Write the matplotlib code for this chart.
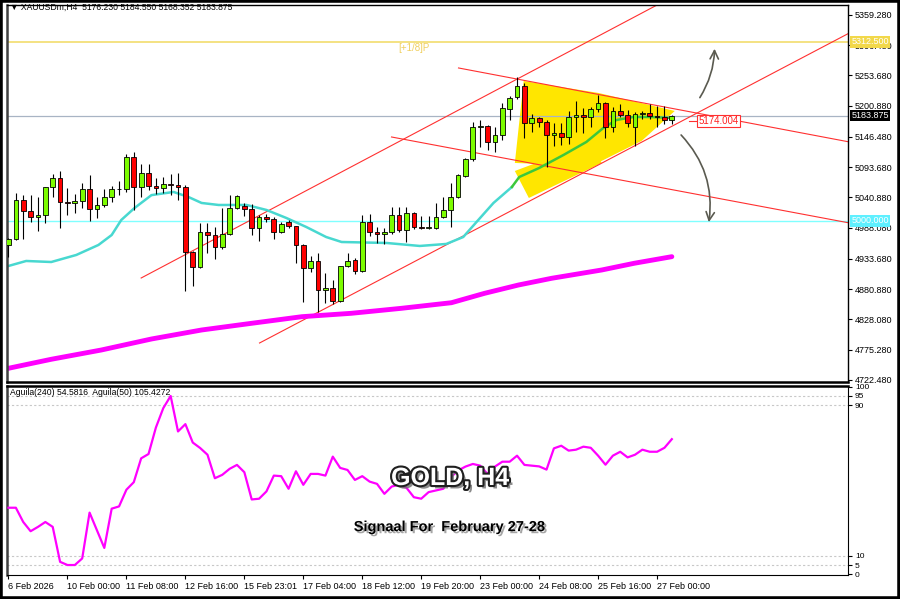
import numpy as np
import matplotlib.pyplot as plt
from matplotlib.patches import Rectangle, Polygon, FancyArrowPatch
import matplotlib.patheffects as pe

plt.rcParams['font.family'] = ['Liberation Sans', 'DejaVu Sans']

# XAUUSDm H4 candles
opens = [4958.0, 4967.9, 5036.0, 5017.3, 5007.4, 5010.4, 5058.7, 5074.4, 5032.5, 5030.8,
         5034.8, 5055.2, 5020.3, 5027.8, 5042.3, 5055.2, 5055.2, 5112.0, 5059.7, 5083.1,
         5061.5, 5056.9, 5063.9, 5062.7, 5059.7, 4946.3, 4920.1, 4981.2, 4975.4, 4953.9,
         4976.7, 5023.1, 5026.6, 5020.3, 4988.2, 5007.4, 5003.4, 4980.2, 4998.7, 4991.7,
         4958.0, 4917.3, 4930.1, 4879.5, 4882.4, 4860.8, 4921.4, 4931.8, 4913.2, 4997.6,
         4981.2, 4977.2, 4981.2, 5010.4, 4984.2, 5013.3, 4989.9, 4987.1, 4988.2, 5007.4,
         5019.1, 5041.3, 5078.4, 5107.5, 5163.3, 5165.6, 5137.2, 5149.9, 5194.8, 5215.7,
         5235.4, 5171.4, 5179.1, 5173.1, 5149.9, 5153.9, 5147.0, 5181.8, 5184.3, 5180.8,
         5194.8, 5205.2, 5163.3, 5192.3, 5184.8, 5163.3, 5186.0, 5187.8, 5183.6, 5181.8,
         5176.23]
highs = [4970.2, 5048.2, 5045.3, 5045.3, 5041.3, 5059.7, 5081.9, 5087.1, 5056.9, 5047.0,
         5065.6, 5080.1, 5042.3, 5055.2, 5061.5, 5070.2, 5116.7, 5119.7, 5099.3, 5099.3,
         5074.4, 5076.1, 5081.9, 5084.1, 5062.7, 4947.5, 4995.8, 4996.9, 4989.9, 5022.0,
         5045.3, 5045.3, 5031.8, 5029.5, 5010.4, 5012.1, 5006.3, 4997.6, 5001.6, 4991.7,
         4959.8, 4938.8, 4944.6, 4909.6, 4896.9, 4921.9, 4943.5, 4934.8, 5010.4, 5012.1,
         4989.9, 4987.1, 5023.8, 5023.8, 5023.8, 5016.1, 5009.1, 5008.6, 5030.7, 5042.3,
         5065.6, 5081.9, 5109.3, 5172.1, 5176.1, 5167.0, 5163.3, 5205.2, 5217.9, 5250.6,
         5240.1, 5186.5, 5181.8, 5176.1, 5170.3, 5171.4, 5192.3, 5209.7, 5196.5, 5198.2,
         5219.7, 5208.0, 5198.2, 5204.0, 5193.5, 5190.6, 5192.3, 5204.0, 5200.5, 5200.5,
         5184.55]
lows = [4937.1, 4966.7, 4967.9, 4998.7, 4983.0, 4996.9, 5042.3, 4988.2, 5010.4, 5013.3,
        5022.0, 4999.9, 5004.6, 5024.8, 5033.5, 5045.3, 5051.0, 5019.1, 5042.3, 5054.0,
        5047.0, 5048.2, 5045.3, 5036.5, 4878.3, 4886.5, 4917.3, 4944.6, 4933.1, 4951.0,
        4975.4, 5020.3, 5008.6, 4975.4, 4965.0, 4998.7, 4967.9, 4978.4, 4987.1, 4926.1,
        4859.1, 4911.4, 4841.7, 4856.3, 4855.2, 4858.0, 4919.1, 4907.4, 4911.4, 4973.7,
        4960.9, 4959.8, 4977.2, 4981.2, 4963.8, 4985.4, 4985.4, 4985.4, 4985.4, 5004.6,
        4988.9, 5039.5, 5077.2, 5105.0, 5128.4, 5123.7, 5120.8, 5141.2, 5176.1, 5212.0,
        5144.2, 5155.7, 5163.3, 5093.6, 5130.7, 5132.5, 5134.2, 5155.7, 5153.9, 5163.3,
        5190.6, 5144.2, 5155.7, 5181.8, 5164.4, 5130.7, 5177.3, 5177.3, 5164.4, 5169.1,
        5168.352]
closes = [4968.4, 5036.0, 5017.3, 5007.4, 5010.4, 5058.7, 5074.4, 5032.5, 5030.8, 5034.8,
          5055.2, 5020.3, 5027.8, 5042.3, 5055.2, 5056.2, 5112.0, 5059.7, 5083.1, 5061.5,
          5056.9, 5063.9, 5062.7, 5059.7, 4946.3, 4920.1, 4981.2, 4975.4, 4953.9, 4976.7,
          5023.1, 5043.5, 5020.3, 4988.2, 5007.4, 5003.4, 4980.2, 4994.1, 4991.7, 4958.0,
          4917.3, 4930.1, 4879.5, 4882.4, 4860.8, 4921.4, 4930.1, 4913.2, 4997.6, 4981.2,
          4977.2, 4981.2, 5010.4, 4984.2, 5013.3, 4988.9, 4987.1, 4989.9, 5007.4, 5019.1,
          5042.3, 5080.1, 5107.5, 5164.4, 5165.6, 5137.2, 5149.9, 5196.5, 5213.9, 5235.4,
          5171.4, 5179.1, 5173.1, 5149.9, 5153.9, 5147.0, 5181.8, 5184.3, 5180.8, 5194.8,
          5205.2, 5163.3, 5192.3, 5184.8, 5171.4, 5186.0, 5187.8, 5183.6, 5181.8, 5176.1,
          5183.875]

# moving averages
ma_fast_x = [0, 2.4, 5.8, 9.2, 12.2, 14, 15.3, 17.1, 19.4, 22.4, 24.4, 26.2, 28.5, 32.3, 35,
             37.7, 40.4, 43.1, 45.2, 51.3, 55.8, 59.4, 61.7, 63.5, 65.8, 68.3, 69.3, 72,
             75.3, 78.4, 80.7, 82.5, 84.8, 87, 90]
ma_fast = [4921.4, 4930.1, 4928.3, 4940.6, 4958.0, 4975.4, 5001.6, 5022.5, 5045.0, 5050.5,
           5041.8, 5031.3, 5027.8, 5027.8, 5019.1, 5005.1, 4989.4, 4971.9, 4963.2, 4961.5,
           4956.3, 4959.8, 4971.9, 4998.1, 5031.3, 5059.2, 5076.6, 5092.3, 5115.0, 5137.7,
           5162.1, 5176.1, 5181.3, 5181.3, 5179.6]
ma_slow_x = [0, 5.8, 12.6, 19.4, 26.2, 33.0, 39.8, 46.5, 53.3, 60.1, 64.6, 69.2, 73.7,
             80.5, 84.9, 90]
ma_slow = [4742.9, 4758.6, 4774.8, 4794.0, 4809.7, 4821.4, 4832.9, 4838.8, 4847.5, 4857.3,
           4873.7, 4888.2, 4899.9, 4914.4, 4926.1, 4937.6]

# Aguila oscillator
aguila = [35.5, 35.5, 27.9, 23.0, 25.3, 27.9, 25.3, 6.7, 5.0, 5.0,
          8.5, 32.9, 23.5, 14.1, 35.0, 36.2, 45.1, 49.1, 61.8, 64.1,
          78.2, 88.5, 95.0, 76.1, 80.0, 70.2, 67.3, 63.7, 51.2, 53.0,
          56.2, 58.3, 54.4, 39.9, 40.3, 44.2, 52.6, 52.3, 45.6, 54.9,
          47.7, 53.5, 53.5, 52.6, 62.7, 56.7, 55.6, 50.3, 52.3, 49.4,
          48.2, 42.9, 46.8, 47.7, 46.1, 41.1, 40.3, 43.8, 44.7, 45.6,
          51.7, 55.3, 57.4, 58.8, 57.9, 53.5, 57.4, 60.0, 60.0, 63.2,
          58.3, 57.9, 57.5, 55.8, 67.1, 68.5, 65.9, 66.4, 68.0, 67.4,
          63.2, 58.4, 63.2, 65.3, 62.3, 63.7, 66.4, 65.3, 65.3, 67.4,
          72.0]

# trend lines: (bar, price) endpoints
trend_lines = [
    [(18.0, 4900.4), (89.3, 5385.5)],
    [(34.06, 4787.0), (114.1, 5327.9)],
    [(61.06, 5266.8), (114.1, 5137.7)],
    [(51.97, 5146.4), (114.1, 4996.4)],
]
zone_a = [(69.9, 5244.1), (80.05, 5223.2), (90.4, 5191.8), (85.9, 5139.5), (79.1, 5095.8), (68.7, 5101.1)]
zone_b = [(68.7, 5087.1), (78.8, 5135.9), (80.5, 5101.1), (70.6, 5040.0)]

price_ticks = [5359.280, 5306.480, 5253.680, 5200.880, 5146.480, 5093.680, 5040.880,
               4988.080, 4933.680, 4880.880, 4828.080, 4775.280, 4722.480]
date_pos = [0, 8, 16, 24, 32, 40, 48, 56, 64, 72, 80, 88]
date_labels = ['6 Feb 2026', '10 Feb 00:00', '11 Feb 08:00', '12 Feb 16:00', '15 Feb 23:01',
               '17 Feb 04:00', '18 Feb 12:00', '19 Feb 20:00', '23 Feb 00:00', '24 Feb 08:00',
               '25 Feb 16:00', '27 Feb 00:00']

fig = plt.figure(figsize=(9, 5.99), dpi=100)
ax = fig.add_axes([0.0078, 0.3623, 0.9344, 0.6294])
ax2 = fig.add_axes([0.0078, 0.0401, 0.9344, 0.3155])
xlim = (-0.2, 113.9)

# --- main chart ---
ax.add_patch(Polygon(zone_a, closed=True, facecolor='#ffe600', edgecolor='none', zorder=1))
ax.add_patch(Polygon(zone_b, closed=True, facecolor='#ffe600', edgecolor='none', zorder=1))

ax.axhline(5312.5, color='#f3df78', lw=1.3, zorder=1.5)
ax.axhline(5000.0, color='#80ffff', lw=1.0, zorder=1.5)
ax.axhline(5183.875, color='#a8b4c4', lw=0.9, zorder=1.5)

for (x1, y1), (x2, y2) in trend_lines:
    ax.plot([x1, x2], [y1, y2], color='#ff3030', lw=0.8, zorder=2)

ax.plot(ma_slow_x, ma_slow, color='#ff00ff', lw=3.5, solid_capstyle='round',
        solid_joinstyle='round', zorder=2.5)
ax.plot(ma_fast_x[:26], ma_fast[:26], color='#48d8d0', lw=1.8, zorder=2.5)
ax.plot(ma_fast_x[25:], ma_fast[25:], color='#3cc83c', lw=1.8, zorder=2.5)

idx = np.arange(len(opens))
ax.vlines(idx, lows, highs, color='black', lw=0.8, zorder=3)
for i in idx:
    o, c = opens[i], closes[i]
    col = '#7cfc00' if c >= o else '#ff0000'
    ax.add_patch(Rectangle((i - 0.32, min(o, c)), 0.64, max(abs(c - o), 0.8),
                           facecolor=col, edgecolor='black', lw=0.6, zorder=3.5))

# arrows
ax.add_patch(FancyArrowPatch((93.6, 5211.0), (95.8, 5305.2), connectionstyle='arc3,rad=0.15',
                             arrowstyle='->,head_width=0.25,head_length=0.5', mutation_scale=12,
                             color='#5a5a50', lw=1.2, zorder=4))
ax.add_patch(FancyArrowPatch((91.0, 5153.4), (94.97, 4992.9), connectionstyle='arc3,rad=-0.25',
                             arrowstyle='->,head_width=0.25,head_length=0.5', mutation_scale=12,
                             color='#5a5a50', lw=1.2, zorder=4))

ax.plot([92.3, 93.5], [5174.004, 5174.004], color='#ff3030', lw=0.8, zorder=4)
ax.text(93.6, 5174.004, '5174.004', color='#ff2020', fontsize=7, ha='left', va='center', zorder=5,
        bbox=dict(boxstyle='square,pad=0.1', facecolor='white', edgecolor='#ff3030', lw=0.8))
ax.text(52.9, 5301.7, '[+1/8]P', color='#f0d060', fontsize=7, ha='left', va='center')

ax.set_xlim(*xlim)
ax.set_ylim(4719.0, 5376.7)
ax.set_xticks([])
ax.yaxis.tick_right()
ax.set_yticks(price_ticks)
ax.set_yticklabels(['%.3f' % v for v in price_ticks])
ax.tick_params(axis='y', labelsize=6.5, length=3, width=0.8, pad=2)

# price tags on the axis
for val, fc in [(5312.5, '#f2d84a'), (5183.875, 'black'), (5000.0, '#5ff0ff')]:
    ax.text(1.004, val, '%.3f' % val, transform=ax.get_yaxis_transform(), fontsize=6.5,
            color='white', ha='left', va='center', zorder=6,
            bbox=dict(boxstyle='square,pad=0.15', facecolor=fc, edgecolor='none'))

for s in ax.spines.values():
    s.set_linewidth(1.0)
ax.spines['bottom'].set_linewidth(1.8)
ax.spines['left'].set_linewidth(1.8)
ax.spines['left'].set_color('#404040')

fig.text(0.011, 0.987, '\u25bc XAUUSDm,H4  5176.230 5184.550 5168.352 5183.875', fontsize=6.2,
         ha='left', va='center')

# --- oscillator ---
ax2.plot(idx, aguila, color='#ff00ff', lw=1.6, zorder=3)
for lv in [5, 10, 90, 95]:
    ax2.axhline(lv, color='#c8c8c8', lw=0.8, ls=(0, (2, 2)), zorder=1)
ax2.set_xlim(*xlim)
ax2.set_ylim(-0.3, 100.3)
ax2.yaxis.tick_right()
ax2.set_yticks([0, 5, 10, 90, 95, 100])
ax2.tick_params(axis='y', labelsize=6, length=3, pad=2)
ax2.set_xticks(date_pos)
ax2.set_xticklabels(date_labels)
for lab in ax2.get_xticklabels():
    lab.set_horizontalalignment('left')
ax2.tick_params(axis='x', labelsize=6.5, length=3, pad=2)
ax2.spines['top'].set_linewidth(1.8)
ax2.spines['left'].set_linewidth(1.8)
ax2.spines['left'].set_color('#404040')
ax2.text(0.004, 0.965, 'Aguila(240) 54.5816  Aguila(50) 105.4272', transform=ax2.transAxes,
         fontsize=6.2, ha='left', va='center')

fig.text(0.5, 0.202, 'GOLD, H4', fontsize=18, fontweight='bold', color='white',
         ha='center', va='center',
         path_effects=[pe.SimplePatchShadow(offset=(2.5, -2.5), shadow_rgbFace='#707070', alpha=0.8),
                       pe.Stroke(linewidth=3, foreground='#202020'), pe.Normal()])
fig.text(0.5, 0.12, 'Signaal For  February 27-28', fontsize=10.5, fontweight='bold', color='black',
         ha='center', va='center',
         path_effects=[pe.SimplePatchShadow(offset=(1.5, -1.5), shadow_rgbFace='#909090', alpha=0.8),
                       pe.Normal()])

fig.patches.append(Rectangle((0, 0), 1, 1, transform=fig.transFigure, fill=False,
                             edgecolor='black', lw=4, zorder=10))

fig.savefig('out.png', dpi=100)
